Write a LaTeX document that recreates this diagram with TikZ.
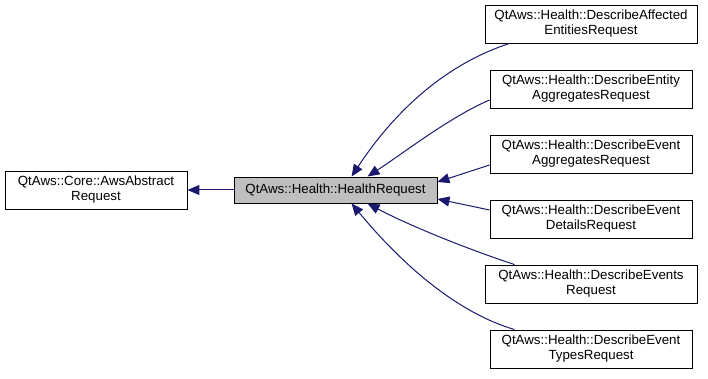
\documentclass[tikz,border=0pt]{standalone}
\usepackage{fontspec}
\setmainfont{Liberation Sans}
\usetikzlibrary{arrows.meta}
\definecolor{EdgeClr}{rgb}{0.098,0.098,0.439}
\definecolor{BaseClr}{rgb}{0.75,0.75,0.75}

\tikzset{
  cls/.style={draw=black,line width=0.9pt,fill=white,align=center,
    inner sep=0pt,minimum height=38pt,
    font=\fontsize{13.3}{15}\selectfont},
  inherit/.style={EdgeClr,line width=1pt,
    {Triangle[length=12pt,width=10pt]}-}
}

\begin{document}
\begin{tikzpicture}[x=1pt,y=-1pt]
\useasboundingbox (0,0) rectangle (708,379);

% base classes
\node[cls,minimum width=182pt] (abs) at (96,190)
  {QtAws::Core::AwsAbstract\\Request};
\node[cls,fill=BaseClr,minimum width=203pt,minimum height=26pt] (hr) at (335.5,190)
  {QtAws::Health::HealthRequest};

% derived requests
\node[cls,minimum width=212pt] (aff) at (591,24)
  {QtAws::Health::DescribeAffected\\EntitiesRequest};
\node[cls,minimum width=202pt] (ent) at (591,89)
  {QtAws::Health::DescribeEntity\\AggregatesRequest};
\node[cls,minimum width=202pt] (evagg) at (591,154)
  {QtAws::Health::DescribeEvent\\AggregatesRequest};
\node[cls,minimum width=202pt] (evdet) at (591,219)
  {QtAws::Health::DescribeEvent\\DetailsRequest};
\node[cls,minimum width=212pt] (evs) at (591,284)
  {QtAws::Health::DescribeEvents\\Request};
\node[cls,minimum width=202pt] (evtyp) at (591,349)
  {QtAws::Health::DescribeEvent\\TypesRequest};

\draw[inherit] (abs.east) -- (hr.west);

\draw[inherit] ([xshift=118pt]hr.north west)
  .. controls (390,118) and (440,66) .. ([xshift=25pt]aff.south west);
\draw[inherit] ([xshift=134pt]hr.north west)
  .. controls (405,152) and (450,117) .. ([yshift=-11pt]ent.west);
\draw[inherit] ([yshift=8pt]hr.east) -- ([yshift=-11pt]evagg.west);
\draw[inherit] ([yshift=-9pt]hr.east) -- ([yshift=9pt]evdet.west);
\draw[inherit] ([xshift=134pt]hr.south west)
  .. controls (410,226) and (470,250) .. ([xshift=30pt]evs.north west);
\draw[inherit] ([xshift=118pt]hr.south west)
  .. controls (400,262) and (455,312) .. ([xshift=25pt]evtyp.north west);

\end{tikzpicture}
\end{document}
